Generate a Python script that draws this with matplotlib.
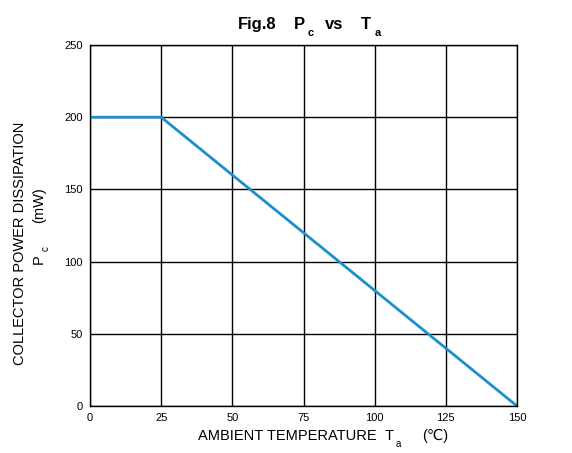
import matplotlib
matplotlib.use("Agg")
import matplotlib.pyplot as plt

plt.rcParams['font.family'] = ['Liberation Sans', 'DejaVu Sans']

# derating curve
temp = [0, 25, 150]
power = [200, 200, 0]

xticks = [0, 25, 50, 75, 100, 125, 150]
yticks = [0, 50, 100, 150, 200, 250]

W, H = 572, 453
fig = plt.figure(figsize=(W / 100, H / 100), dpi=100)
ax = fig.add_axes([90 / W, 1 - 406 / H, 427 / W, 361 / H])

ax.plot(temp, power, color='#1a8fd0', linewidth=2)

ax.set_xlim(0, 150)
ax.set_ylim(0, 250)
ax.set_xticks(xticks)
ax.set_yticks(yticks)
ax.grid(True, color='black', linewidth=1)
ax.tick_params(length=0, labelsize=8, pad=5)
for s in ax.spines.values():
    s.set_color('black')
    s.set_linewidth(1)


def px(x, y, s, **kw):
    fig.text(x / W, 1 - y / H, s, **kw)


# title pieces, with the lowered subscripts
tk = dict(fontsize=12, fontweight='bold', va='baseline', ha='left')
sk = dict(fontsize=8, fontweight='bold', va='baseline', ha='left')
px(238, 29, 'Fig.8', **tk)
px(294, 29, 'P', **tk)
px(308, 36, 'c', **sk)
px(325, 29, 'vs', **tk)
px(361, 29, 'T', **tk)
px(375, 36, 'a', **sk)

# x label
lk = dict(fontsize=10.5, va='baseline', ha='left')
px(198, 440, 'AMBIENT TEMPERATURE', **lk)
px(385, 440, 'T', **lk)
px(396, 447, 'a', fontsize=7, va='baseline', ha='left')
px(422, 440, '(℃)', **lk)

# y label, two rotated lines
px(20, 243, 'COLLECTOR POWER DISSIPATION', fontsize=10.5, rotation=90, ha='center', va='center')
px(32, 264, 'P', fontsize=10.5, rotation=90, ha='left', va='bottom')
px(41, 251, 'c', fontsize=7, rotation=90, ha='left', va='bottom')
px(32, 223, '(mW)', fontsize=10.5, rotation=90, ha='left', va='bottom')

fig.savefig('out.png', dpi=100)
